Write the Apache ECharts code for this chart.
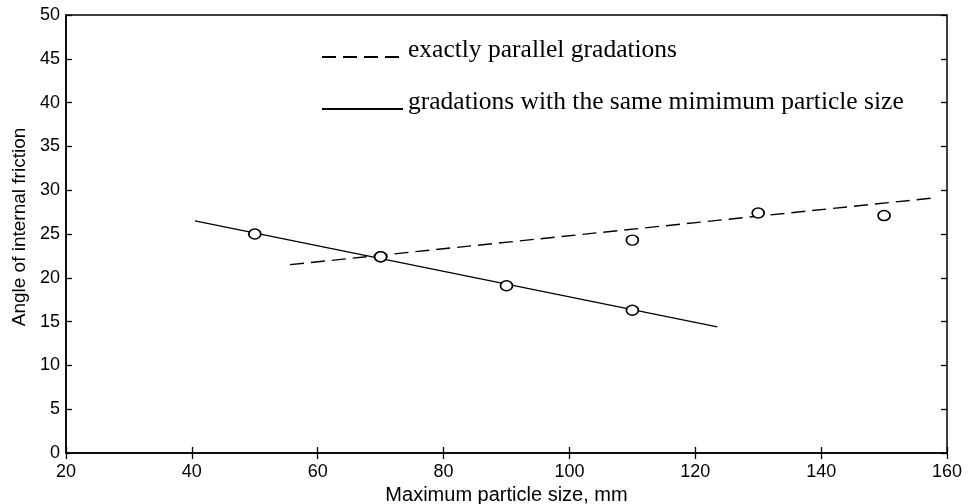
<!DOCTYPE html>
<html>
<head>
<meta charset="utf-8">
<script src="https://cdn.jsdelivr.net/npm/echarts@6/dist/echarts.min.js"></script>
<style>
  html, body { margin: 0; padding: 0; background: #fff; }
  #main { width: 970px; height: 504px; }
</style>
</head>
<body>
<div id="main"></div>
<script>
// fitted lines (end points)
var sameMinX = [40.5, 123.5];
var sameMinY = [26.5, 14.4];
var parallelX = [55.6, 157.7];
var parallelY = [21.5, 29.1];

// measured points
var sameMinPtsX = [50, 70, 90, 110];
var sameMinPtsY = [25, 22.4, 19.1, 16.3];
var parallelPtsX = [70, 110, 130, 150];
var parallelPtsY = [22.4, 24.3, 27.4, 27.1];

var legendNames = ['exactly parallel gradations', 'gradations with the same mimimum particle size'];

function pairs(xs, ys) {
    return xs.map(function (x, i) { return [x, ys[i]]; });
}

var chart = echarts.init(document.getElementById('main'));

var labelFont = { color: '#000', fontFamily: 'Liberation Sans', fontSize: 18 };
var tickIn = { show: true, inside: true, length: 6, lineStyle: { color: '#000', width: 1.3 } };

chart.setOption({
    animation: false,
    backgroundColor: '#fff',
    grid: {
        left: 66, top: 15, right: 23, bottom: 51,
        outerBoundsMode: 'none',
        containLabel: false,
        show: true, borderColor: '#000', borderWidth: 1.5, backgroundColor: 'transparent'
    },
    legend: {
        data: legendNames,
        orient: 'vertical',
        left: 321,
        top: 37,
        padding: 0,
        itemWidth: 81,
        itemHeight: 10,
        itemGap: 12,
        itemStyle: { opacity: 0 },
        formatter: '{t|{name}}',
        textStyle: {
            color: '#000', fontFamily: 'Liberation Serif', fontSize: 25.5,
            rich: {
                t: { fontFamily: 'Liberation Serif', fontSize: 25.5, lineHeight: 26, padding: [0, 0, 14, 0], color: '#000' }
            }
        }
    },
    xAxis: [{
        type: 'value', min: 20, max: 160, interval: 20,
        name: 'Maximum particle size, mm', nameLocation: 'middle', nameGap: 31,
        nameTextStyle: { color: '#000', fontFamily: 'Liberation Sans', fontSize: 20 },
        axisLine: { show: true, lineStyle: { color: '#000', width: 1.5 } },
        axisTick: tickIn,
        axisLabel: Object.assign({ margin: 10 }, labelFont),
        splitLine: { show: false }
    }, {
        type: 'value', min: 20, max: 160, interval: 20, position: 'top',
        axisLine: { show: false },
        axisTick: tickIn,
        axisLabel: { show: false },
        splitLine: { show: false }
    }],
    yAxis: [{
        type: 'value', min: 0, max: 50, interval: 5,
        name: 'Angle of internal friction', nameLocation: 'middle', nameGap: 37,
        nameTextStyle: { color: '#000', fontFamily: 'Liberation Sans', fontSize: 19, padding: [0, 0, 0, 14] },
        axisLine: { show: true, lineStyle: { color: '#000', width: 1.5 } },
        axisTick: tickIn,
        axisLabel: Object.assign({ margin: 6 }, labelFont),
        splitLine: { show: false }
    }, {
        type: 'value', min: 0, max: 50, interval: 5, position: 'right',
        axisLine: { show: false },
        axisTick: tickIn,
        axisLabel: { show: false },
        splitLine: { show: false }
    }],
    series: [{
        name: legendNames[0],
        type: 'line',
        symbol: 'none',
        data: pairs(parallelX, parallelY),
        lineStyle: { color: '#000', width: 1.4, type: [14, 7] },
        itemStyle: { color: '#000' }
    }, {
        name: legendNames[1],
        type: 'line',
        symbol: 'none',
        data: pairs(sameMinX, sameMinY),
        lineStyle: { color: '#000', width: 1.3, type: 'solid' },
        itemStyle: { color: '#000' }
    }, {
        name: 'points same min',
        type: 'scatter',
        symbol: 'circle',
        symbolSize: [12, 10],
        data: pairs(sameMinPtsX, sameMinPtsY),
        itemStyle: { color: '#fff', borderColor: '#000', borderWidth: 1.6, opacity: 1 },
        z: 5
    }, {
        name: 'points parallel',
        type: 'scatter',
        symbol: 'circle',
        symbolSize: [12, 10],
        data: pairs(parallelPtsX, parallelPtsY),
        itemStyle: { color: '#fff', borderColor: '#000', borderWidth: 1.6, opacity: 1 },
        z: 5
    }]
});
</script>
</body>
</html>
